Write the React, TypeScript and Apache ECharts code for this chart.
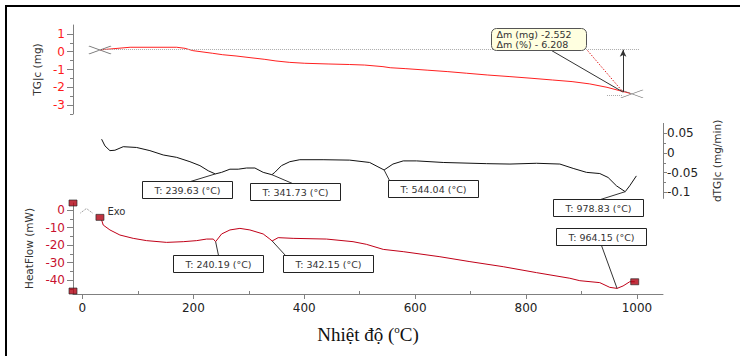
import React, { useEffect, useRef } from "react";
import * as echarts from "echarts";

// ---- axis ticks ----
const xTicks = [0, 200, 400, 600, 800, 1000];
const xMinorTicks = [100, 300, 500, 700, 900];
const tgTicks = [-3, -2, -1, 0, 1];
const tgMinorTicks = [-3.5, -2.5, -1.5, -0.5, 0.5];
const dtgTicks = [-0.1, -0.05, 0, 0.05];
const dtgMinorTicks = [-0.075, -0.025, 0.025];
const hfTicks = [-40, -30, -20, -10, 0];
const hfMinorTicks = [-45, -35, -25, -15, -5];

// ---- TG (mg) ----
const tgTemp = [31.6, 42, 86, 170, 185, 199, 235, 253, 277, 304, 329, 349, 374, 401, 443, 482, 509, 542, 555, 582, 623, 659, 693, 731, 771, 809, 848, 883, 915, 946, 969, 988];
const tgMass = [0.1, 0.13, 0.25, 0.25, 0.19, 0.06, -0.09, -0.17, -0.24, -0.34, -0.43, -0.52, -0.6, -0.65, -0.69, -0.72, -0.75, -0.84, -0.9, -0.95, -1.04, -1.12, -1.21, -1.31, -1.4, -1.49, -1.59, -1.68, -1.81, -2.0, -2.19, -2.34];
const tgCrossT = [31.6, 991];
const tgCrossM = [0.1, -2.37];
const tgRefLevel = 0.11;
const tgRefRange = [31.6, 1005];
const tgEndLevel = -2.43;
const tgEndRange = [946, 975];
const tgStepT = 975;
const tgStepM = -2.27;
const deltaMassMg = "-2.552";
const deltaMassPct = "- 6.208";

// ---- dTG (mg/min) ----
const dtgTemp = [34.6, 40.6, 49.6, 58.6, 73.6, 97.7, 121.7, 145.7, 169.9, 193.9, 211.9, 226.9, 239.63, 251, 266, 281, 296, 311, 326, 341.73, 347, 359, 374, 392, 434, 482, 518, 533, 544.04, 560, 578.5, 602.7, 650.7, 729, 771, 819, 861, 885, 909, 933, 948, 963, 978.83, 987, 999];
const dtgVal = [0.035, 0.018, 0.006, 0.007, 0.016, 0.014, 0.006, -0.005, -0.011, -0.022, -0.032, -0.045, -0.053, -0.049, -0.041, -0.041, -0.038, -0.038, -0.049, -0.055, -0.049, -0.032, -0.022, -0.017, -0.017, -0.018, -0.024, -0.035, -0.043, -0.028, -0.02, -0.02, -0.024, -0.027, -0.028, -0.026, -0.028, -0.039, -0.049, -0.052, -0.062, -0.083, -0.098, -0.083, -0.058];
const dtgPeakT = [239.63, 341.73, 544.04, 978.83];

// ---- Heat flow (mW) ----
const hfTemp = [34.6, 37.5, 49.6, 67.6, 91.6, 115.7, 151.8, 181.8, 206, 224, 236, 240.19, 251, 266, 284, 302, 326, 338, 342.15, 353, 380, 440, 488, 512, 542.5, 578.5, 644.7, 698.8, 758.9, 819, 879, 897, 933, 951, 964.15, 975, 987, 996];
const hfVal = [-5.7, -8.6, -11.4, -14.3, -16.2, -17.5, -18.5, -18.1, -17.5, -16.6, -16.6, -18.1, -13.7, -11.4, -10.5, -11.4, -13.7, -16.6, -17.7, -15.8, -16.2, -16.6, -18.1, -19.6, -22.5, -23.8, -26.7, -29.5, -32.4, -35.8, -39, -40.4, -41.5, -44.2, -44.8, -43.4, -41, -41];
const hfPeakT = [240.19, 342.15, 964.15];
const hfMarkT = [-17, -17, 31.6, 996];
const hfMarkV = [4, -46.3, -4.2, -41];

const X_MIN = -17;
const X_MAX = 1047;
const FONT = "DejaVu Sans";

export default function App() {
  const ref = useRef<HTMLDivElement>(null);

  useEffect(() => {
    const chart = echarts.init(ref.current!, null, { renderer: "svg" });

    const grid = (top: number, height: number) => ({
      left: 73, top, width: 590, height, containLabel: false, outerBoundsMode: "none",
    });

    const hiddenX = (gi: number) => ({
      type: "value", gridIndex: gi, min: X_MIN, max: X_MAX, show: false, position: "bottom",
      axisLine: { onZero: false }, splitLine: { show: false },
    });

    const plain = (v: number) => String(v);

    const mainY = (gi: number, min: number, max: number, ticks: number[], pos: string, color: string, name: string, gap: number, tickLen: number, margin: number) => ({
      type: "value", gridIndex: gi, min, max, position: pos,
      axisLine: { show: true, onZero: false, lineStyle: { color: "#808080", width: 1 } },
      axisTick: { show: true, customValues: ticks, length: tickLen, lineStyle: { color: "#808080" } },
      axisLabel: { show: true, customValues: ticks, color, fontSize: 12, fontFamily: FONT, margin, formatter: plain },
      splitLine: { show: false },
      name, nameLocation: "middle", nameRotate: 90, nameGap: gap,
      nameTextStyle: { fontFamily: FONT, fontSize: 10.5, color: "#333" },
    });

    const minorY = (gi: number, min: number, max: number, ticks: number[], pos: string) => ({
      type: "value", gridIndex: gi, min, max, position: pos, offset: 0,
      axisLine: { show: false, onZero: false },
      axisTick: { show: true, customValues: ticks, length: 3, lineStyle: { color: "#808080" } },
      axisLabel: { show: false },
      splitLine: { show: false },
    });

    const option: any = {
      animation: false,
      backgroundColor: "#ffffff",
      grid: [grid(25, 89), grid(123.4, 75), grid(203, 91)],
      xAxis: [
        hiddenX(0),
        hiddenX(1),
        {
          type: "value", gridIndex: 2, min: X_MIN, max: X_MAX, position: "bottom",
          axisLine: { show: true, onZero: false, lineStyle: { color: "#808080" } },
          axisTick: { show: true, customValues: xTicks, length: 5, lineStyle: { color: "#808080" } },
          axisLabel: { show: true, customValues: xTicks, color: "#222", fontSize: 12, fontFamily: FONT, margin: 8, formatter: plain },
          splitLine: { show: false },
          name: "{a|Nhiệt độ (}{b|o}{a|C)}",
          nameLocation: "middle",
          nameGap: 29,
          nameTextStyle: {
            rich: {
              a: { fontFamily: "Liberation Serif", fontSize: 19, color: "#111", lineHeight: 22 },
              b: { fontFamily: "Liberation Serif", fontSize: 11, color: "#111", verticalAlign: "top", lineHeight: 22 },
            },
          },
        },
        {
          type: "value", gridIndex: 2, min: X_MIN, max: X_MAX, position: "bottom", offset: 0,
          axisLine: { show: false, onZero: false },
          axisTick: { show: true, inside: true, customValues: xMinorTicks, length: 3, lineStyle: { color: "#808080" } },
          axisLabel: { show: false },
          splitLine: { show: false },
        },
      ],
      yAxis: [
        mainY(0, -3.5, 1.5, tgTicks, "left", "#ff1a1a", "TG|c (mg)", 26, 6, 8),
        minorY(0, -3.5, 1.5, tgMinorTicks, "left"),
        mainY(1, -0.115, 0.075, dtgTicks, "right", "#222", "dTG|c (mg/min)", 48, 4, 4),
        minorY(1, -0.115, 0.075, dtgMinorTicks, "right"),
        mainY(2, -48, 4, hfTicks, "left", "#c8102e", "HeatFlow (mW)", 34, 6, 8),
        minorY(2, -48, 4, hfMinorTicks, "left"),
      ],
      series: [
        {
          type: "line", xAxisIndex: 0, yAxisIndex: 0,
          data: tgTemp.map((t, i) => [t, tgMass[i]]),
          showSymbol: false, symbol: "none",
          lineStyle: { color: "#ff2020", width: 1 },
          z: 3,
          markLine: {
            silent: true, animation: false, symbol: "none",
            label: { show: false },
            data: [
              [
                { coord: [tgRefRange[0], tgRefLevel], lineStyle: { type: "dotted", color: "#aaaaaa", width: 1 } },
                { coord: [tgRefRange[1], tgRefLevel] },
              ],
              [
                { coord: [tgEndRange[0], tgEndLevel], lineStyle: { type: "dotted", color: "#aaaaaa", width: 1 } },
                { coord: [tgEndRange[1], tgEndLevel] },
              ],
              [
                { coord: [tgStepT, tgStepM], symbol: "none", lineStyle: { type: "solid", color: "#333", width: 1 } },
                { coord: [tgStepT, tgRefLevel], symbol: "arrow", symbolSize: [5, 7] },
              ],
            ],
          },
        },
        {
          type: "scatter", xAxisIndex: 0, yAxisIndex: 0,
          data: tgCrossT.map((t, i) => [t, tgCrossM[i]]),
          symbol: "path://M0,0L22,8M0,8L22,0",
          symbolSize: [22, 8],
          itemStyle: { color: "transparent", borderColor: "#555", borderWidth: 1 },
          clip: false, z: 4,
        },
        {
          type: "line", xAxisIndex: 1, yAxisIndex: 2,
          data: dtgTemp.map((t, i) => [t, dtgVal[i]]),
          showSymbol: false, symbol: "none",
          lineStyle: { color: "#111", width: 1 },
        },
        {
          type: "line", xAxisIndex: 2, yAxisIndex: 4,
          data: hfTemp.map((t, i) => [t, hfVal[i]]),
          showSymbol: false, symbol: "none",
          lineStyle: { color: "#c00018", width: 1 },
        },
        {
          type: "scatter", xAxisIndex: 2, yAxisIndex: 4,
          data: hfMarkT.map((t, i) => [t, hfMarkV[i]]),
          symbol: "rect", symbolSize: [8, 6],
          itemStyle: { color: "#b00010", borderColor: "#222", borderWidth: 0.8 },
          clip: false, z: 5,
        },
      ],
    };

    chart.setOption(option);

    const P = (si: number, x: number, y: number) => chart.convertToPixel({ seriesIndex: si } as any, [x, y]) as number[];
    const g: any[] = [];

    // frame
    g.push({ type: "rect", silent: true, z: 100, shape: { x: 6, y: 6, width: 800, height: 400 }, style: { fill: "none", stroke: "#000", lineWidth: 2 } });

    const box = (px: number, py: number, dx: number, dy: number, attachX: number, attachBottom: boolean, text: string) => {
      const bx = Math.round(px + dx) + 0.5;
      const by = Math.round(py + dy) + 0.5;
      const w = 90, h = 17;
      g.push({ type: "line", z: 20, shape: { x1: px, y1: py, x2: bx + attachX, y2: attachBottom ? by + h : by }, style: { stroke: "#333", lineWidth: 1 } });
      g.push({ type: "rect", z: 21, shape: { x: bx, y: by, width: w, height: h }, style: { fill: "#fff", stroke: "#222", lineWidth: 1 } });
      g.push({ type: "text", z: 22, style: { text, x: bx + w / 2, y: by + h / 2 + 0.5, align: "center", verticalAlign: "middle", fontSize: 9.5, fontFamily: FONT, fill: "#333" } });
    };

    const dtgOff = [[-73, 7, 48, false], [-22, 8.5, 42, false], [4, 10, 1, false], [-72, 7.5, 47, false]];
    dtgPeakT.forEach((t, i) => {
      const v = dtgVal[dtgTemp.indexOf(t)];
      const p = P(2, t, v);
      const o = dtgOff[i] as any[];
      box(p[0], p[1], o[0], o[1], o[2], o[3], `T: ${t.toFixed(2)} (°C)`);
    });
    const hfOff = [[-43, 13.5, 45, false], [10.5, 14, 2, false], [-61, -60, 45, true]];
    hfPeakT.forEach((t, i) => {
      const v = hfVal[hfTemp.indexOf(t)];
      const p = P(3, t, v);
      const o = hfOff[i] as any[];
      box(p[0], p[1], o[0], o[1], o[2], o[3], `T: ${t.toFixed(2)} (°C)`);
    });

    // Δm annotation
    const E = P(0, tgStepT, tgStepM);
    const bx = Math.round(E[0] - 132) + 0.5;
    const by = Math.round(E[1] - 64) + 0.5;
    g.push({ type: "line", z: 20, shape: { x1: bx + 60, y1: by + 22, x2: E[0], y2: E[1] }, style: { stroke: "#333", lineWidth: 1 } });
    g.push({ type: "line", z: 20, shape: { x1: bx + 96, y1: by + 22, x2: E[0], y2: E[1] }, style: { stroke: "#e02020", lineWidth: 1, lineDash: [1.5, 1.5] } });
    g.push({ type: "rect", z: 21, shape: { x: bx, y: by, width: 95, height: 22, r: 5 }, style: { fill: "#ffffe0", stroke: "#555", lineWidth: 1 } });
    g.push({ type: "text", z: 22, style: { text: `Δm (mg) ${deltaMassMg}`, x: bx + 5, y: by + 5.5, align: "left", verticalAlign: "middle", fontSize: 9.5, fontFamily: FONT, fill: "#333" } });
    g.push({ type: "text", z: 22, style: { text: `Δm (%) ${deltaMassPct}`, x: bx + 5, y: by + 16, align: "left", verticalAlign: "middle", fontSize: 9.5, fontFamily: FONT, fill: "#333" } });

    // Exo indicator
    const O = P(3, 0, 0);
    g.push({ type: "polyline", z: 20, shape: { points: [[O[0] - 2, O[1] + 3], [O[0] + 4, O[1] - 1.5], [O[0] + 10, O[1] + 3]] }, style: { stroke: "#888", lineWidth: 1, lineDash: [1, 1], fill: "none" } });
    g.push({ type: "text", z: 20, style: { text: "Exo", x: O[0] + 25, y: O[1] + 1.5, align: "left", verticalAlign: "middle", fontSize: 10, fontFamily: FONT, fill: "#333" } });

    chart.setOption({ graphic: g });

    return () => chart.dispose();
  }, []);

  return <div ref={ref} style={{ position: "fixed", left: 0, top: 0, width: 740, height: 356, background: "#fff" }} />;
}
